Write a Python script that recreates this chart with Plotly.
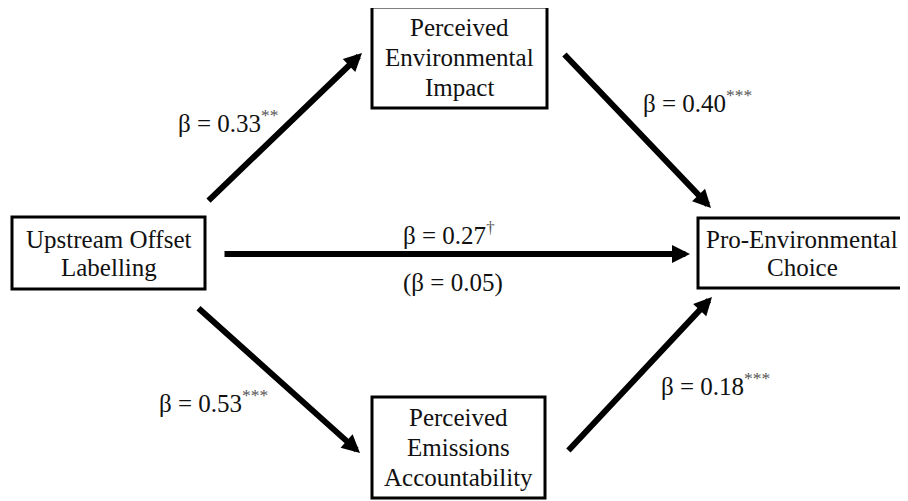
import plotly.graph_objects as go

# ---- data ----
nodes = [["Upstream Offset", "Labelling"],
         ["Perceived", "Environmental", "Impact"],
         ["Pro-Environmental", "Choice"],
         ["Perceived", "Emissions", "Accountability"]]
path_betas = [0.33, 0.40, 0.27, 0.53, 0.18]
path_sig = ["**", "***", "†", "***", "***"]
direct_beta = 0.05

# ---- layout (pixel space of the reference) ----
OFF = 8  # page body margin
W, H = 908, 501
boxes = [(12, 217, 205, 289), (372, 7, 547, 108), (698, 218, 906, 288), (372, 397, 545, 498)]
node_line_gap = [28, 30, 28, 30]
# arrows: (tail_x, tail_y, tip_x, tip_y)
arrows = [(207, 202, 362, 53), (563, 53, 711, 208), (223, 254, 690, 254),
          (197, 307, 360, 453), (567, 452, 712, 297)]
label_pos = [(228, 121), (697, 101), (449, 233), (213, 401), (715, 384)]
FONT = "Liberation Serif, Times New Roman, serif"

fig = go.Figure()
shapes = []
annotations = []
for (x0, y0, x1, y1), lines, gap in zip(boxes, nodes, node_line_gap):
    shapes.append(dict(type="rect", xref="x", yref="y", x0=x0, y0=y0, x1=x1, y1=y1,
                       line=dict(color="black", width=3), fillcolor="white"))
    cx, cy = (x0 + x1) / 2, (y0 + y1) / 2
    n = len(lines)
    for i, ln in enumerate(lines):
        annotations.append(dict(x=cx, y=cy + (i - (n - 1) / 2) * gap, xref="x", yref="y",
                                text=ln, showarrow=False,
                                font=dict(family=FONT, size=25, color="#111")))

for (tx, ty, hx, hy) in arrows:
    annotations.append(dict(x=hx, y=hy, ax=tx, ay=ty, xref="x", yref="y",
                            axref="x", ayref="y", text="", showarrow=True,
                            arrowhead=2, arrowsize=0.6, arrowwidth=6,
                            arrowcolor="black", standoff=0, startstandoff=0))

for (lx, ly), b, s in zip(label_pos, path_betas, path_sig):
    annotations.append(dict(x=lx, y=ly, xref="x", yref="y",
                            text=f"β = {b:.2f}<sup><span style='color:#555'>{s}</span></sup>",
                            showarrow=False,
                            font=dict(family=FONT, size=25, color="#111")))
annotations.append(dict(x=453, y=283, xref="x", yref="y",
                        text=f"(β = {direct_beta:.2f})", showarrow=False,
                        font=dict(family=FONT, size=25, color="#111")))

fig.update_layout(width=W - OFF, height=H - OFF, margin=dict(l=0, r=0, t=0, b=0),
                  paper_bgcolor="white", plot_bgcolor="white",
                  shapes=shapes, annotations=annotations,
                  xaxis=dict(range=[OFF, W], visible=False, fixedrange=True),
                  yaxis=dict(range=[H, OFF], visible=False, fixedrange=True),
                  showlegend=False)
fig.write_html("out.html")
